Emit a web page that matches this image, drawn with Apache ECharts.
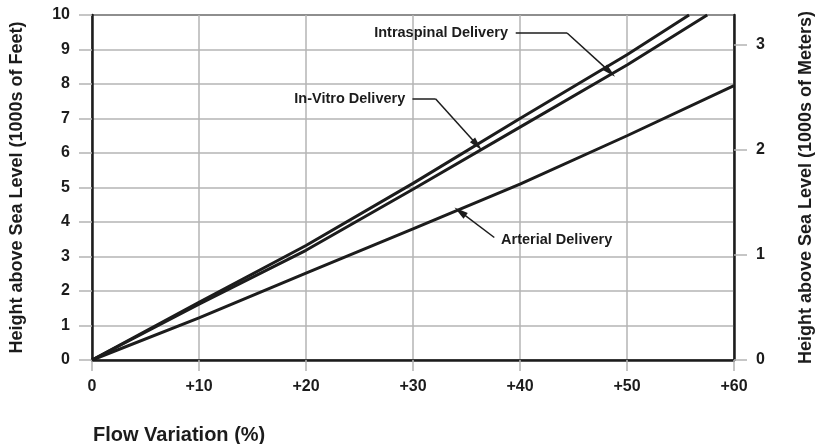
<!DOCTYPE html>
<html lang="en">
<head>
<meta charset="UTF-8" />
<script src="https://cdn.jsdelivr.net/npm/echarts@6/dist/echarts.min.js"></script>
<style>
html,body{margin:0;padding:0;background:#fff;}
#main{width:835px;height:444px;}
</style>
</head>
<body>
<div id="main"></div>
<script type="text/javascript">
// 数据
var arterialX = [0, 10, 20, 30, 40, 50, 60];
var arterialY = [0, 1.22, 2.52, 3.8, 5.1, 6.5, 7.95];
var inVitroX = [0, 10, 20, 30, 40, 50, 55.8];
var inVitroY = [0, 1.67, 3.32, 5.12, 7.0, 8.85, 10];
var intraspinalX = [0, 10, 20, 30, 40, 50, 57.5];
var intraspinalY = [0, 1.62, 3.18, 4.95, 6.75, 8.55, 10];
var feetTicks = [0, 1, 2, 3, 4, 5, 6, 7, 8, 9, 10];
var meterMax = 3.28;

function pairs(xs, ys){
	var out = [];
	for(var i=0;i<xs.length;i++){ out.push([xs[i], ys[i]]); }
	return out;
}

var ink = '#1c1c1c';
var gridGray = '#b4b4b4';
var font = '"Liberation Sans", Arial, sans-serif';

// 标注：文字 + 折线箭头
function note(text, at, pos, path){
	var segs = [];
	for(var i=0;i<path.length-1;i++){
		segs.push([
			{coord: path[i], symbol: 'none'},
			{coord: path[i+1], symbol: i == path.length-2 ? 'triangle' : 'none'}
		]);
	}
	return {
		markPoint: {
			symbol: 'circle', symbolSize: 1,
			itemStyle: {color: 'rgba(0,0,0,0)'},
			label: {show: true, position: pos, distance: 3, formatter: text,
				color: ink, fontFamily: font, fontWeight: 'bold', fontSize: 14.5},
			data: [{coord: at}]
		},
		markLine: {
			silent: true, symbolSize: [7, 14],
			lineStyle: {color: ink, width: 1.5, type: 'solid'},
			label: {show: false},
			data: segs
		}
	};
}

function lineSeries(name, data, extra){
	var s = {
		name: name, type: 'line', data: data, showSymbol: false, symbol: 'none',
		xAxisIndex: 0, yAxisIndex: 0, clip: true,
		lineStyle: {color: ink, width: 3}
	};
	for(var k in extra){ s[k] = extra[k]; }
	return s;
}

var myChart = echarts.init(document.getElementById('main'));
myChart.setOption({
	animation: false,
	backgroundColor: '#fff',
	title: {
		text: 'Flow Variation (%)', left: 88, top: 420,
		textStyle: {fontFamily: font, fontWeight: 'bold', fontSize: 20, color: ink}
	},
	grid: {left: 91, right: 101, top: 15, bottom: 84, show: true,
		borderColor: ink, borderWidth: 2, backgroundColor: 'transparent'},
	xAxis: {
		type: 'value', min: 0, max: 60, interval: 10,
		axisLine: {show: true, lineStyle: {color: ink, width: 2.5}},
		axisTick: {show: true, length: 11, lineStyle: {color: gridGray, width: 1.5}},
		splitLine: {show: true, lineStyle: {color: gridGray, width: 1.5}},
		axisLabel: {margin: 19, color: ink, fontFamily: font, fontWeight: 'bold', fontSize: 16,
			formatter: function(v){ return v === 0 ? '0' : '+' + v; }}
	},
	yAxis: [{
		type: 'value', min: feetTicks[0], max: feetTicks[feetTicks.length-1], interval: 1,
		position: 'left',
		name: 'Height above Sea Level (1000s of Feet)', nameLocation: 'middle', nameRotate: 90, nameGap: 66,
		nameTextStyle: {fontFamily: font, fontWeight: 'bold', fontSize: 18, color: ink},
		axisLine: {show: true, lineStyle: {color: ink, width: 2.5}},
		axisTick: {show: true, length: 13, lineStyle: {color: gridGray, width: 1.5}},
		splitLine: {show: true, lineStyle: {color: gridGray, width: 1.5}},
		axisLabel: {margin: 22, color: ink, fontFamily: font, fontWeight: 'bold', fontSize: 16}
	}, {
		type: 'value', min: 0, max: meterMax, interval: 1,
		position: 'right',
		name: 'Height above Sea Level (1000s of Meters)', nameLocation: 'middle', nameRotate: 90, nameGap: 63,
		nameTextStyle: {fontFamily: font, fontWeight: 'bold', fontSize: 18, color: ink},
		axisLine: {show: true, lineStyle: {color: ink, width: 2.5}},
		axisTick: {show: true, length: 13, lineStyle: {color: gridGray, width: 1.5}},
		splitLine: {show: false},
		axisLabel: {margin: 22, color: ink, fontFamily: font, fontWeight: 'bold', fontSize: 16,
			showMaxLabel: false}
	}],
	series: [
		lineSeries('Arterial Delivery', pairs(arterialX, arterialY),
			note('Arterial Delivery', [37.9, 3.47], 'right', [[37.6, 3.55], [34.4, 4.3]])),
		lineSeries('In-Vitro Delivery', pairs(inVitroX, inVitroY),
			note('In-Vitro Delivery', [29.6, 7.57], 'left', [[29.95, 7.57], [32.1, 7.57], [36.0, 6.23]])),
		lineSeries('Intraspinal Delivery', pairs(intraspinalX, intraspinalY),
			note('Intraspinal Delivery', [39.2, 9.48], 'left', [[39.6, 9.48], [44.4, 9.48], [48.4, 8.35]]))
	]
});
</script>
</body>
</html>
